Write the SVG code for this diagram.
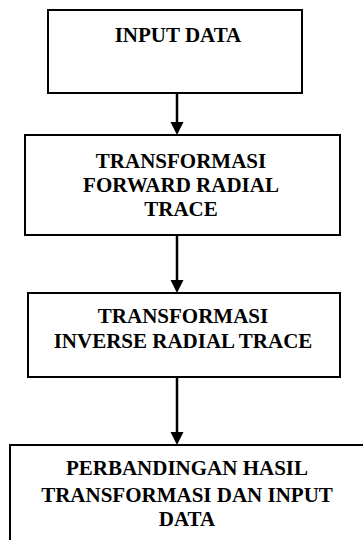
<svg xmlns="http://www.w3.org/2000/svg" width="363" height="540" viewBox="0 0 363 540">
<style>
.box{fill:#fff;stroke:#000;stroke-width:2}
.t{font-family:"Liberation Serif","Times New Roman",serif;font-weight:bold;font-size:21px;fill:#000;text-anchor:middle}
.c{stroke:#000;stroke-width:2.5;fill:none}
</style>
<defs>
<marker id="ah" markerWidth="6" markerHeight="6" refX="5" refY="3" orient="auto" markerUnits="userSpaceOnUse" viewBox="0 0 6 6">
<path d="M0,0 L6,3 L0,6 Z" fill="#000"/>
</marker>
</defs>
<rect width="363" height="540" fill="#fff"/>
<g id="connectors">
<line class="c" x1="177" y1="93" x2="177" y2="123"/>
<polygon points="170.5,122 183.5,122 177,135" fill="#000"/>
<line class="c" x1="177" y1="235" x2="177" y2="281"/>
<polygon points="170.5,280 183.5,280 177,293" fill="#000"/>
<line class="c" x1="177" y1="377" x2="177" y2="433"/>
<polygon points="170.5,432 183.5,432 177,445" fill="#000"/>
</g>
<g id="node1">
<rect class="box" x="48" y="10" width="254" height="83"/>
<text class="t" x="178" y="42">INPUT DATA</text>
</g>
<g id="node2">
<rect class="box" x="25" y="135" width="315" height="100"/>
<text class="t" x="181" y="168">TRANSFORMASI</text>
<text class="t" x="181" y="192">FORWARD RADIAL</text>
<text class="t" x="181" y="216">TRACE</text>
</g>
<g id="node3">
<rect class="box" x="28" y="293" width="312" height="84"/>
<text class="t" x="183" y="323">TRANSFORMASI</text>
<text class="t" x="183" y="348">INVERSE RADIAL TRACE</text>
</g>
<g id="node4">
<rect class="box" x="10" y="445" width="365" height="110"/>
<text class="t" x="187" y="475">PERBANDINGAN HASIL</text>
<text class="t" x="187" y="502">TRANSFORMASI DAN INPUT</text>
<text class="t" x="187" y="526">DATA</text>
</g>
</svg>
